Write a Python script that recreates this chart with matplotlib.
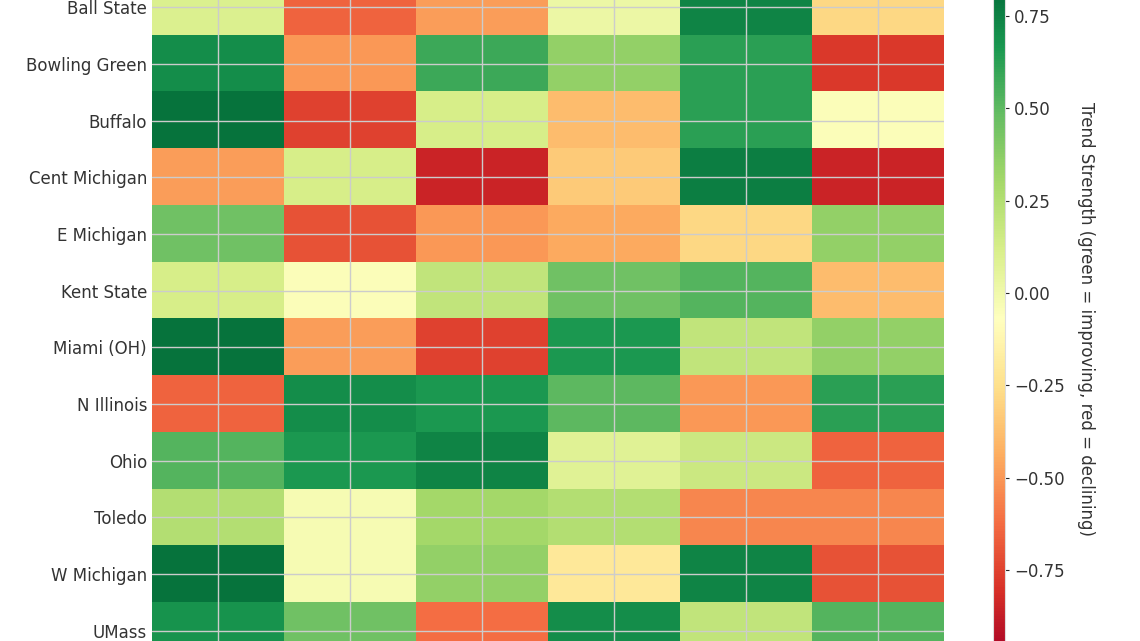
import numpy as np
import matplotlib
matplotlib.use("Agg")
import matplotlib.pyplot as plt
import seaborn as sns

sns.set_style("whitegrid")
plt.rcParams['font.family'] = ['DejaVu Sans']

teams = ["Ball State", "Bowling Green", "Buffalo", "Cent Michigan", "E Michigan",
         "Kent State", "Miami (OH)", "N Illinois", "Ohio", "Toledo", "W Michigan", "UMass"]
metrics = ["M1", "M2", "M3", "M4", "M5", "M6"]
values = [
    [0.10, -0.65, -0.48, 0.02, 0.74, -0.28],
    [0.70, -0.50, 0.58, 0.35, 0.62, -0.78],
    [0.80, -0.75, 0.12, -0.38, 0.62, -0.05],
    [-0.48, 0.12, -0.85, -0.33, 0.76, -0.85],
    [0.45, -0.70, -0.50, -0.45, -0.28, 0.35],
    [0.12, -0.05, 0.20, 0.45, 0.52, -0.38],
    [0.80, -0.48, -0.75, 0.66, 0.20, 0.35],
    [-0.65, 0.70, 0.66, 0.50, -0.50, 0.62],
    [0.52, 0.66, 0.74, 0.08, 0.16, -0.65],
    [0.25, -0.03, 0.30, 0.25, -0.55, -0.55],
    [0.80, -0.03, 0.35, -0.20, 0.74, -0.70],
    [0.68, 0.45, -0.62, 0.70, 0.20, 0.52],
]

fig = plt.figure(figsize=(11.4, 6.41), dpi=100)
ax = fig.add_axes([0.1333, -0.028, 0.6947, 1.061])
im = ax.imshow(np.array(values), cmap="RdYlGn", vmin=-0.99, vmax=0.85, aspect="auto")
ax.set_yticks(range(len(teams)))
ax.set_yticklabels(teams, fontsize=12, color="#333333")
ax.set_xticks(range(len(metrics)))
ax.set_xticklabels([])
ax.tick_params(length=0)
ax.grid(True, color="#cccccc", linewidth=1)
for s in ax.spines.values():
    s.set_visible(False)

cax = fig.add_axes([0.871, -0.028, 0.0105, 1.061])
cb = fig.colorbar(im, cax=cax)
cb.set_ticks([-0.75, -0.5, -0.25, 0, 0.25, 0.5, 0.75])
cb.ax.tick_params(labelsize=12, labelcolor="#333333", length=3)
cb.outline.set_edgecolor("#dddddd")
cb.set_label("Trend Strength (green = improving, red = declining)", rotation=270,
             labelpad=22, fontsize=12, color="#333333")
fig.savefig("out.png", dpi=100)
